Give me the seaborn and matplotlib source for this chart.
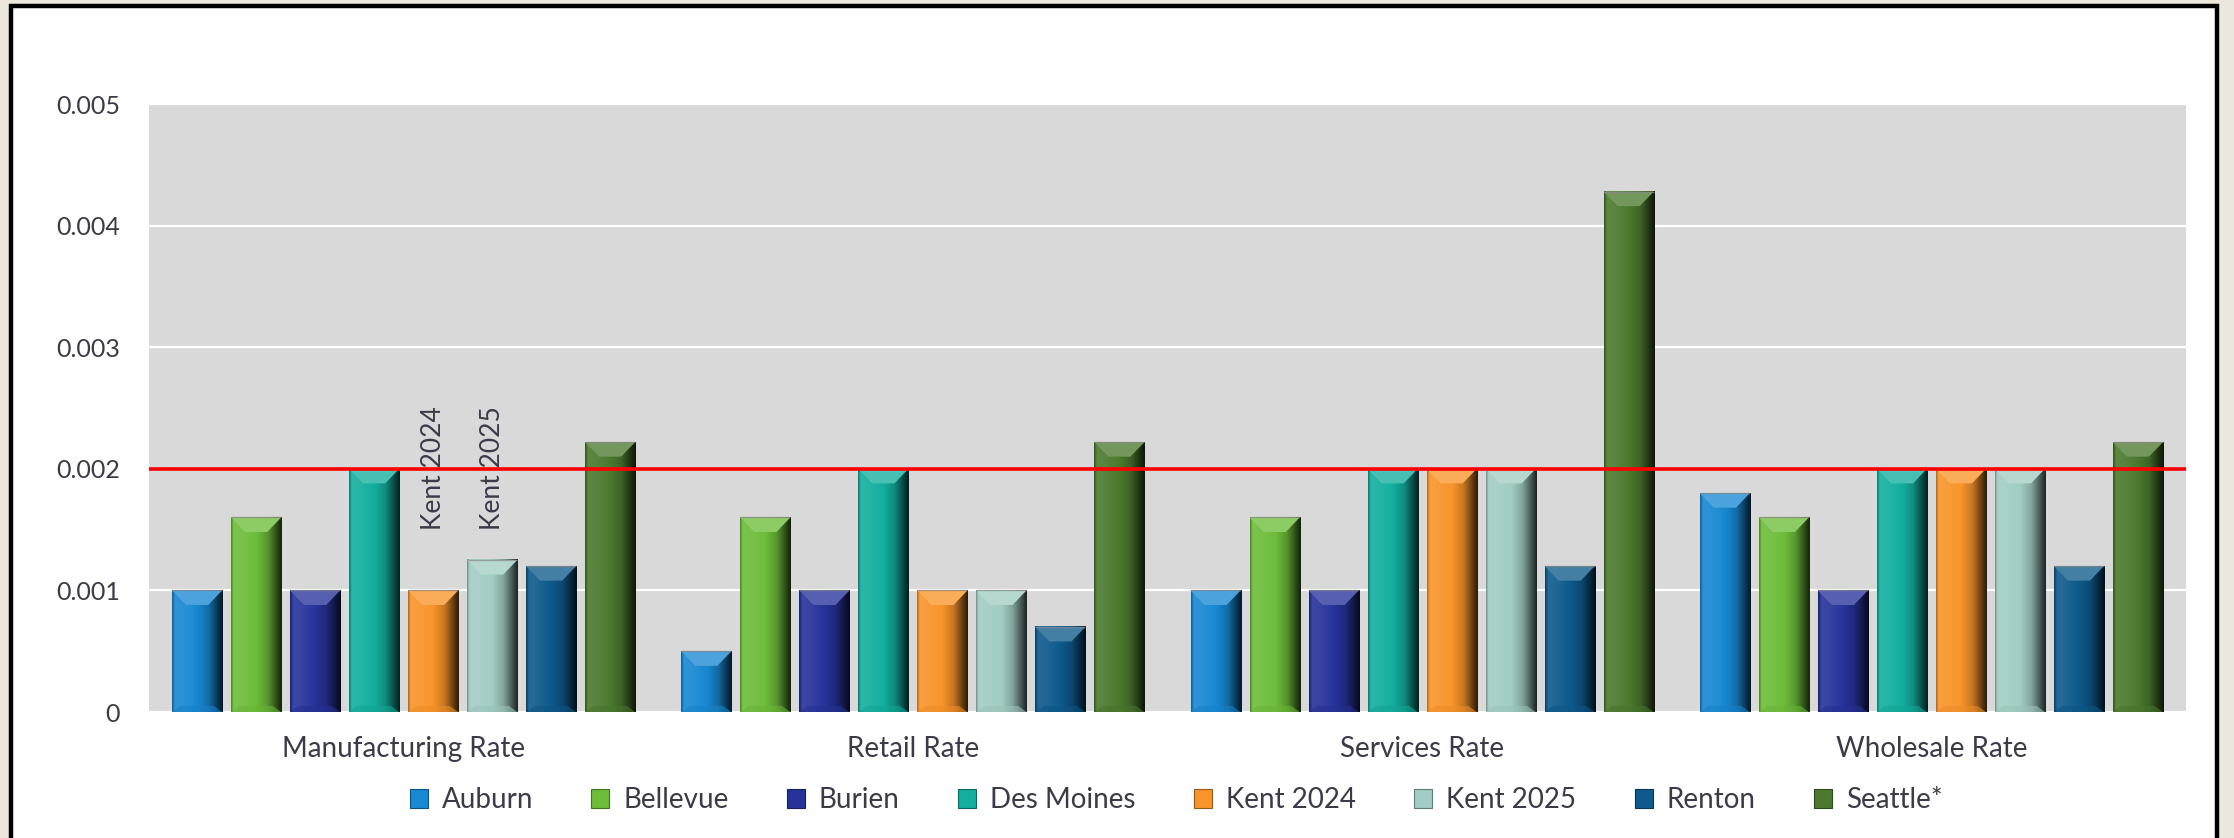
import numpy as np
import pandas as pd
import seaborn as sns
import matplotlib.pyplot as plt
from matplotlib.patches import Polygon, Rectangle, Patch
from matplotlib.colors import to_rgb

# ---- data -------------------------------------------------------------
categories = ["Manufacturing Rate", "Retail Rate", "Services Rate", "Wholesale Rate"]
cities = ["Auburn", "Bellevue", "Burien", "Des Moines",
          "Kent 2024", "Kent 2025", "Renton", "Seattle*"]

auburn = [0.001, 0.0005, 0.001, 0.0018]
bellevue = [0.0016, 0.0016, 0.0016, 0.0016]
burien = [0.001, 0.001, 0.001, 0.001]
des_moines = [0.002, 0.002, 0.002, 0.002]
kent_2024 = [0.001, 0.001, 0.002, 0.002]
kent_2025 = [0.00125, 0.001, 0.002, 0.002]
renton = [0.0012, 0.0007, 0.0012, 0.0012]
seattle = [0.00222, 0.00222, 0.00428, 0.00222]

threshold = 0.002
y_ticks = [0, 0.001, 0.002, 0.003, 0.004, 0.005]
y_tick_labels = ["0", "0.001", "0.002", "0.003", "0.004", "0.005"]
annotated = ["Kent 2024", "Kent 2025"]
annotation_base = 0.0015

colors = ["#1888d2", "#6dbd3a", "#27339a", "#13ae9e",
          "#f8942a", "#a2cdc4", "#0e5a8c", "#4b7a2e"]

series = [auburn, bellevue, burien, des_moines, kent_2024, kent_2025, renton, seattle]
df = pd.DataFrame({
    "category": np.repeat([categories], len(cities), axis=0).ravel(),
    "city": np.repeat(cities, len(categories)),
    "rate": np.concatenate(series),
})

# ---- figure -----------------------------------------------------------
sns.set_theme(style="white")
plt.rcParams["font.family"] = ["Lato", "DejaVu Sans"]
text_color = "#3b3a48"

fig = plt.figure(figsize=(22.34, 8.38), dpi=100)
fig.patch.set_facecolor("#ece7dc")
frame = Rectangle((11 / 2234, -0.05), (2217 - 11) / 2234, 1.05 - 6 / 838,
                  transform=fig.transFigure, facecolor="white",
                  edgecolor="black", linewidth=3.2, zorder=-1)
fig.add_artist(frame)

ax = fig.add_axes([149 / 2234, 1 - 712 / 838, (2186 - 149) / 2234, (712 - 104) / 838])
ax.set_facecolor("#d9d9d9")

sns.barplot(data=df, x="category", y="rate", hue="city", order=categories,
            hue_order=cities, palette=colors, width=0.927, gap=0.15,
            errorbar=None, linewidth=0, saturation=1, legend=False, ax=ax,
            zorder=2)

ax.set_ylim(0, 0.005)
ax.set_xlim(-0.5, len(categories) - 0.5)
ax.set_yticks(y_ticks)
ax.set_yticklabels(y_tick_labels)
ax.yaxis.grid(True, color="white", linewidth=1.6, zorder=0)
ax.set_axisbelow(True)
for s in ax.spines.values():
    s.set_visible(False)
ax.tick_params(axis="y", length=0, pad=21, labelsize=18, labelcolor=text_color)
ax.tick_params(axis="x", length=0, pad=17, labelsize=20, labelcolor=text_color)
ax.set_xlabel("")
ax.set_ylabel("")


def blend(rgb, amount):
    rgb = np.asarray(rgb)
    if amount >= 0:
        return rgb + (1 - rgb) * amount
    return rgb * (1 + amount)


# horizontal shading profile for the bevelled bars
t = np.linspace(0, 1, 80)
shade = np.interp(t, [0, 0.05, 0.2, 0.5, 0.72, 0.88, 1.0],
                  [-0.3, 0.1, 0.08, 0.0, -0.2, -0.55, -0.82])

bevel_h = 0.00012
for color, container in zip(colors, ax.containers):
    base = to_rgb(color)
    strip = np.array([[blend(base, s) for s in shade]])
    top_color = blend(base, 0.22)
    for bar in container:
        x0, w, h = bar.get_x(), bar.get_width(), bar.get_height()
        bar.set_visible(False)
        ax.imshow(strip, extent=(x0, x0 + w, 0, h), aspect="auto",
                  interpolation="bicubic", zorder=2.5)
        bw = 0.28 * w
        top = Polygon([(x0, h), (x0 + w, h), (x0 + w - bw, h - bevel_h),
                       (x0 + bw, h - bevel_h)], closed=True,
                      facecolor=top_color, edgecolor="none", zorder=2.6)
        ax.add_patch(top)
        ax.plot([x0, x0 + w], [h, h], color="#8a8a8a", linewidth=1.0,
                alpha=0.7, zorder=2.7, solid_capstyle="butt")
        bottom = Polygon([(x0, 0), (x0 + w, 0), (x0 + w - bw * 0.6, 0.00005),
                          (x0 + bw * 0.6, 0.00005)], closed=True,
                         facecolor=blend(base, -0.05), alpha=0.6,
                         edgecolor="none", zorder=2.6)
        ax.add_patch(bottom)

ax.set_ylim(0, 0.005)
ax.set_xlim(-0.5, len(categories) - 0.5)

ax.axhline(threshold, color="#ff0000", linewidth=2.6, zorder=4)

# rotated series names above the Kent bars in the first group
for name in annotated:
    bar = ax.containers[cities.index(name)][0]
    ax.text(bar.get_x() + bar.get_width() / 2, annotation_base, name,
            rotation=90, ha="center", va="bottom", fontsize=19,
            color=text_color, zorder=5)

handles = [Patch(facecolor=c, edgecolor=blend(to_rgb(c), -0.4), linewidth=0.8)
           for c in colors]
fig.legend(handles, cities, loc="center", bbox_to_anchor=(1176 / 2234, 0.045),
           ncol=len(cities), frameon=False, fontsize=20, labelcolor=text_color,
           handlelength=0.65, handleheight=0.65, handletextpad=0.5,
           columnspacing=2.1)

fig.savefig("out.png", dpi=100, facecolor=fig.get_facecolor())
